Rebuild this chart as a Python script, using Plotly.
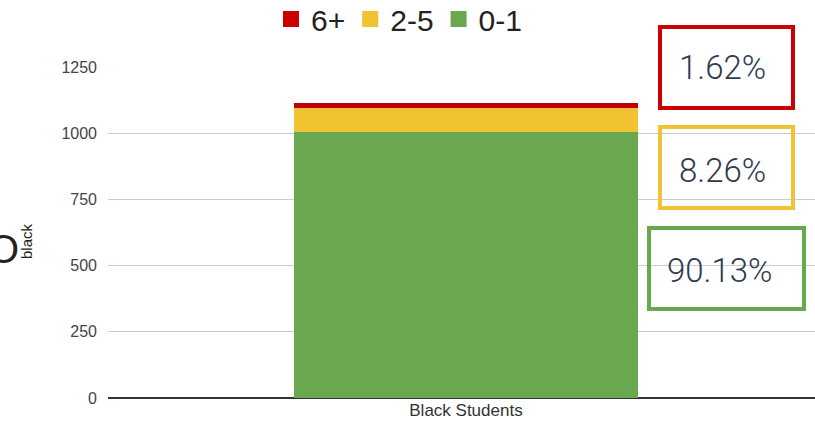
import plotly.graph_objects as go

categories = ["Black Students"]
groups = ["0-1", "2-5", "6+"]
counts_0_1 = [1004]
counts_2_5 = [92]
counts_6p = [18]
pct_labels = ["90.13%", "8.26%", "1.62%"]
y_ticks = [0, 250, 500, 750, 1000, 1250]

bar_colors = {"0-1": "#6aa84f", "2-5": "#f1c232", "6+": "#c00000"}
legend_colors = {"0-1": "#6aa84f", "2-5": "#f1c232", "6+": "#cc0000"}
series = {"0-1": counts_0_1, "2-5": counts_2_5, "6+": counts_6p}

W, H = 815, 424
L, R, T, B = 108, 0, 67, 26
pw, ph = W - L - R, H - T - B

def px(x):
    return (x - L) / pw

def py(y):
    return (H - B - y) / ph

fig = go.Figure()
for g in groups:
    fig.add_trace(go.Bar(x=categories, y=series[g], name=g, marker_color=bar_colors[g],
                         marker_line_width=0, showlegend=False))
for g in groups:
    fig.add_trace(go.Scatter(x=[None], y=[None], mode="markers", name=g,
                             marker=dict(symbol="square", size=18, color=legend_colors[g])))

boxes = [
    (pct_labels[2], "#cc0000", (660, 27, 793, 108), (722, 68)),
    (pct_labels[1], "#f1c232", (660, 127, 793, 208), (722, 170)),
    (pct_labels[0], "#6aa84f", (649, 228, 804, 309), (720, 270)),
]
shapes = []
annotations = []
for txt, col, (x0, y0, x1, y1), (cx, cy) in boxes:
    shapes.append(dict(type="rect", xref="paper", yref="paper",
                       x0=px(x0), x1=px(x1), y0=py(y1), y1=py(y0),
                       line=dict(color=col, width=4), fillcolor="rgba(0,0,0,0)"))
    annotations.append(dict(text=txt, xref="paper", yref="paper", x=px(cx), y=py(cy),
                            xanchor="center", yanchor="middle", showarrow=False,
                            font=dict(family="Roboto", size=33, color="#2f3a52", weight=300)))

annotations.append(dict(text="O", xref="paper", yref="paper", x=px(3), y=py(249),
                        xanchor="center", yanchor="middle", showarrow=False,
                        font=dict(family="Liberation Sans, Arial", size=40, color="#222")))
annotations.append(dict(text="black", xref="paper", yref="paper", x=px(26), y=py(241),
                        xanchor="center", yanchor="middle", showarrow=False, textangle=-90,
                        font=dict(family="Liberation Sans, Arial", size=15, color="#222")))

fig.update_layout(
    width=W, height=H,
    margin=dict(l=L, r=R, t=T, b=B, autoexpand=False),
    barmode="stack", bargap=0.04,
    plot_bgcolor="white", paper_bgcolor="white",
    showlegend=True,
    legend=dict(orientation="h", x=px(271), xanchor="left", y=py(19), yanchor="middle",
                traceorder="reversed", font=dict(family="Liberation Sans, Arial", size=30, color="#222"),
                itemwidth=30, bgcolor="rgba(0,0,0,0)"),
    xaxis=dict(type="category", range=[-1.0, 0.975], showgrid=False, showline=False,
               tickfont=dict(family="Liberation Sans, Arial", size=17, color="#333"), ticks=""),
    yaxis=dict(range=[0, 1250], tickvals=y_ticks, showgrid=True, gridcolor="#cccccc", gridwidth=1,
               zeroline=True, zerolinecolor="#333", zerolinewidth=1.5, ticks="",
               tickfont=dict(family="Liberation Sans, Arial", size=16, color="#444"), ticklabelstandoff=10),
    shapes=shapes, annotations=annotations,
)
fig.write_html("out.html", config={"displayModeBar": False},
               post_script="document.body.style.margin='0';")
